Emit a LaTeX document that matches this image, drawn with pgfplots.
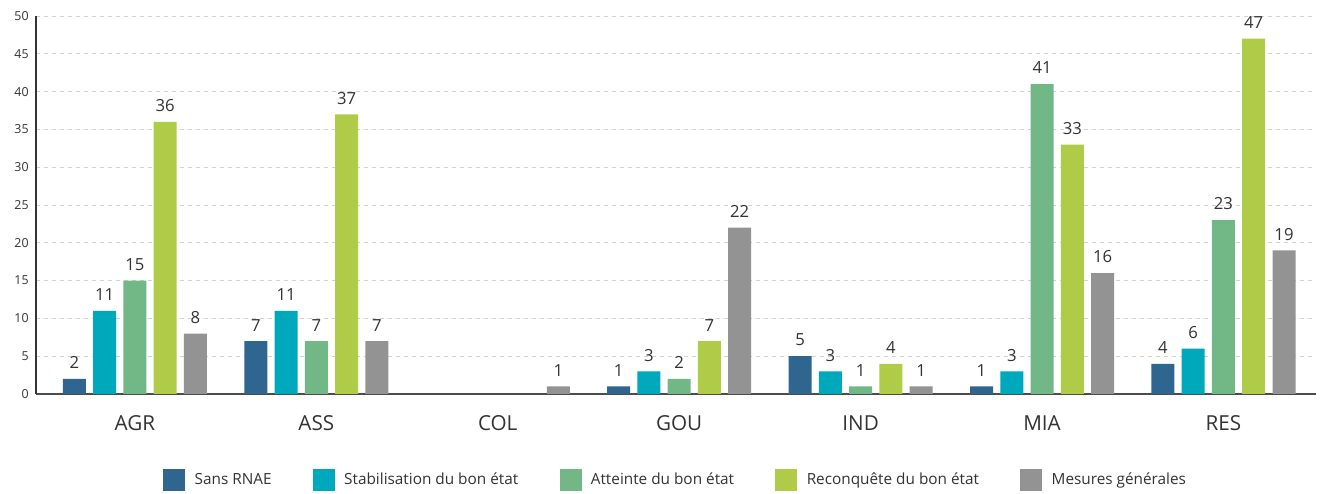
\documentclass[border=0pt]{standalone}
\usepackage{pgfplots}
\pgfplotsset{compat=1.18}
\usepackage{fontspec}
\setmainfont{Open Sans}
\definecolor{cA}{HTML}{2E6690}
\definecolor{cB}{HTML}{00A8BC}
\definecolor{cC}{HTML}{72B886}
\definecolor{cD}{HTML}{AFCB48}
\definecolor{cE}{HTML}{939393}
\definecolor{txt}{HTML}{333333}
\begin{document}
\begin{tikzpicture}
\begin{axis}[
  at={(0,0)}, anchor=south west,
  scale only axis, width=960pt, height=283.5pt,
  ymin=0, ymax=50, ytick={0,5,...,50},
  xmin=-0.545, xmax=6.51,
  xtick={0,...,6}, xticklabels={AGR,ASS,COL,GOU,IND,MIA,RES},
  axis lines=left, axis line style={-, draw=txt, line width=0.9pt},
  x axis line style={draw=black!70, line width=1.2pt},
  major tick length=0pt,
  ymajorgrids, grid style={dashed, draw=black!18, line width=0.5pt},
  tick label style={text=txt},
  yticklabel style={font=\fontsize{9.3}{10}\selectfont, xshift=-2pt},
  xticklabel style={font=\fontsize{15.5}{17}\selectfont, yshift=-12.5pt},
  /pgf/number format/assume math mode=true,
  ybar, bar width=17.25pt,
  every axis plot/.append style={draw=none},
  nodes near coords,
  every node near coord/.append style={font=\fontsize{12.5}{13}\selectfont, text=txt, yshift=4pt},
  legend style={at={(0.5,-0.2275)}, anchor=center, draw=none, legend columns=-1,
    font=\fontsize{11.5}{13}\selectfont, text=txt,
    /tikz/every odd column/.append style={column sep=5pt},
    /tikz/every even column/.append style={column sep=29pt}},
  legend image code/.code={\fill[#1] (0pt,-8.25pt) rectangle (16.5pt,8.25pt);},
  clip=false,
]
\addplot[fill=cA, bar shift=-45.4pt] coordinates {(0,2) (1,7) (3,1) (4,5) (5,1) (6,4)};
\addplot[fill=cB, bar shift=-22.7pt] coordinates {(0,11) (1,11) (3,3) (4,3) (5,3) (6,6)};
\addplot[fill=cC, bar shift=0pt] coordinates {(0,15) (1,7) (3,2) (4,1) (5,41) (6,23)};
\addplot[fill=cD, bar shift=22.7pt] coordinates {(0,36) (1,37) (3,7) (4,4) (5,33) (6,47)};
\addplot[fill=cE, bar shift=45.4pt] coordinates {(0,8) (1,7) (2,1) (3,22) (4,1) (5,16) (6,19)};
\legend{Sans RNAE, Stabilisation du bon état, Atteinte du bon état, Reconquête du bon état, Mesures générales}
\end{axis}
\path (-27pt,-72pt) rectangle (964.5pt,295.5pt);
\end{tikzpicture}
\end{document}
